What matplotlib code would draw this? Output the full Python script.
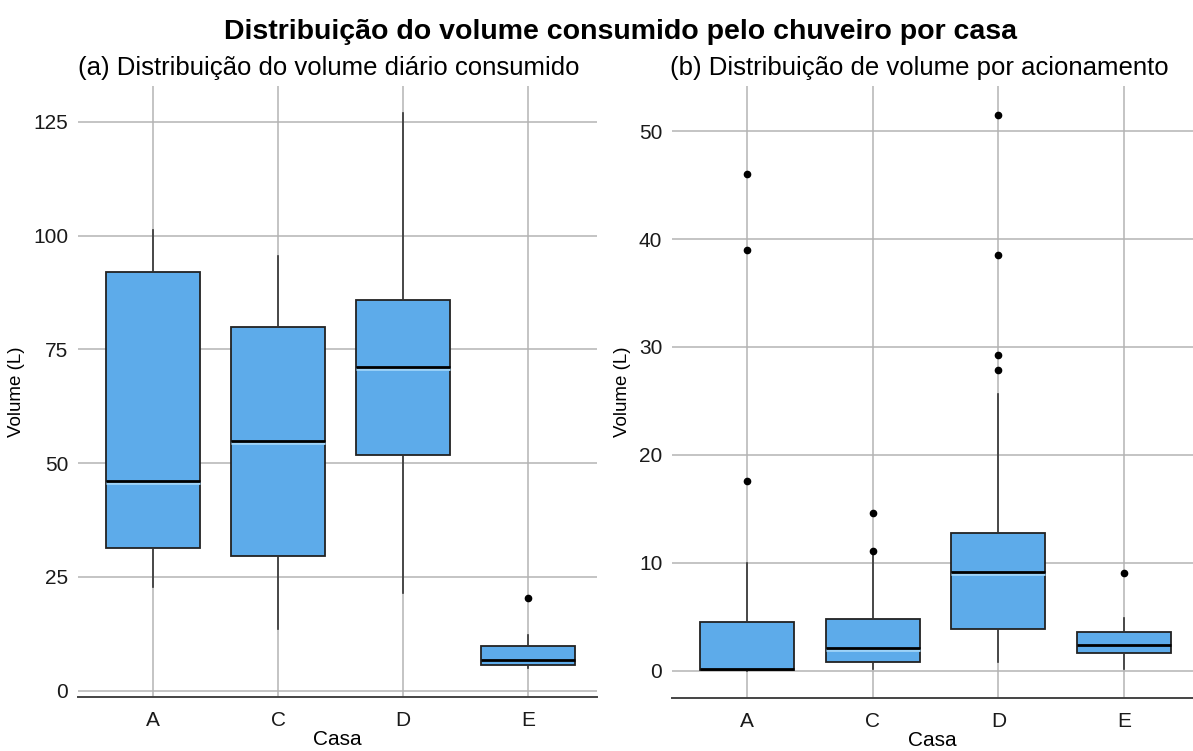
import matplotlib
matplotlib.use('Agg')
import matplotlib.pyplot as plt
import matplotlib.patheffects as pe

plt.rcParams['font.family'] = ['Liberation Sans', 'DejaVu Sans']

casas = ['A', 'C', 'D', 'E']

# Volume diário consumido (L)
dia_whislo = [22.8, 13.5, 21.4, 4.9]
dia_q1 = [31.3, 29.6, 51.8, 5.7]
dia_med = [46.0, 54.8, 71.1, 6.8]
dia_q3 = [92.0, 79.9, 85.9, 9.8]
dia_whishi = [101.3, 95.5, 127.0, 12.2]
dia_fliers = [[], [], [], [20.4]]

# Volume por acionamento (L)
acion_whislo = [0.0, 0.15, 0.77, 0.15]
acion_q1 = [0.05, 0.77, 3.86, 1.65]
acion_med = [0.15, 2.07, 9.14, 2.4]
acion_q3 = [4.5, 4.8, 12.75, 3.6]
acion_whishi = [10.0, 11.1, 25.6, 4.9]
acion_fliers = [[46.0, 39.0, 17.6], [14.65, 11.1], [51.5, 38.5, 29.3, 27.9], [9.07]]

boxColor = '#5dabea'
gridColor = '#b4b4b4'


def makeStats(whislo, q1, med, q3, whishi, fliers):
    stats = []
    for i in range(len(casas)):
        stats.append({'label': casas[i], 'whislo': whislo[i], 'q1': q1[i], 'med': med[i],
                      'q3': q3[i], 'whishi': whishi[i], 'fliers': fliers[i]})
    return stats


def drawBoxes(ax, stats, ylim, yticks, title, titleX):
    ax.set_axisbelow(True)
    res = ax.bxp(stats, positions=range(len(casas)), widths=0.75, patch_artist=True,
                 showcaps=False,
                 boxprops=dict(facecolor=boxColor, edgecolor='#222222', linewidth=1.3),
                 whiskerprops=dict(color='#333333', linewidth=1.2),
                 medianprops=dict(color='black', linewidth=2.0),
                 flierprops=dict(marker='o', markerfacecolor='black', markeredgecolor='black',
                                 markersize=4.5))
    # soft highlight just under each median line
    for m, q1 in zip(res['medians'], [s['q1'] for s in stats]):
        if m.get_ydata()[0] - q1 > 0.02 * (ylim[1] - ylim[0]):
            m.set_path_effects([pe.SimpleLineShadow(offset=(0, -1.5), shadow_color='#9ed3f8',
                                                    alpha=1.0, linewidth=2.0),
                                pe.Normal()])
    ax.set_xlim(-0.6, 3.55)
    ax.set_ylim(ylim)
    ax.set_yticks(yticks)
    ax.set_xticks(range(len(casas)))
    ax.set_xticklabels(casas)
    ax.grid(True, color=gridColor, linewidth=1.1)
    ax.tick_params(axis='both', length=0, labelsize=15, colors='#1a1a1a')
    ax.tick_params(axis='y', pad=7)
    ax.tick_params(axis='x', pad=10)
    for s in ['top', 'right', 'left']:
        ax.spines[s].set_visible(False)
    ax.spines['bottom'].set_color('#444444')
    ax.spines['bottom'].set_linewidth(1.4)
    ax.set_xlabel('Casa', fontsize=15, labelpad=0)
    ax.set_ylabel('Volume (L)', fontsize=13.5, labelpad=6)
    ax.set_title(title, fontsize=18.5, pad=8, x=titleX)


def main():
    fig = plt.figure(figsize=(11.93, 7.51), dpi=100)
    ax1 = fig.add_axes([78 / 1193, 54 / 751, 519 / 1193, 611 / 751])
    ax2 = fig.add_axes([672 / 1193, 53 / 751, 521 / 1193, 612 / 751])

    drawBoxes(ax1, makeStats(dia_whislo, dia_q1, dia_med, dia_q3, dia_whishi, dia_fliers),
              (-1.4, 132.9), [0, 25, 50, 75, 100, 125],
              '(a) Distribuição do volume diário consumido', 0.484)
    drawBoxes(ax2, makeStats(acion_whislo, acion_q1, acion_med, acion_q3, acion_whishi, acion_fliers),
              (-2.55, 54.2), [0, 10, 20, 30, 40, 50],
              '(b) Distribuição de volume por acionamento', 0.474)

    fig.suptitle('Distribuição do volume consumido pelo chuveiro por casa',
                 fontsize=20.5, fontweight='bold', x=0.52, y=0.975)

    fig.savefig('out.png', dpi=100)


if __name__ == "__main__":
    main()
